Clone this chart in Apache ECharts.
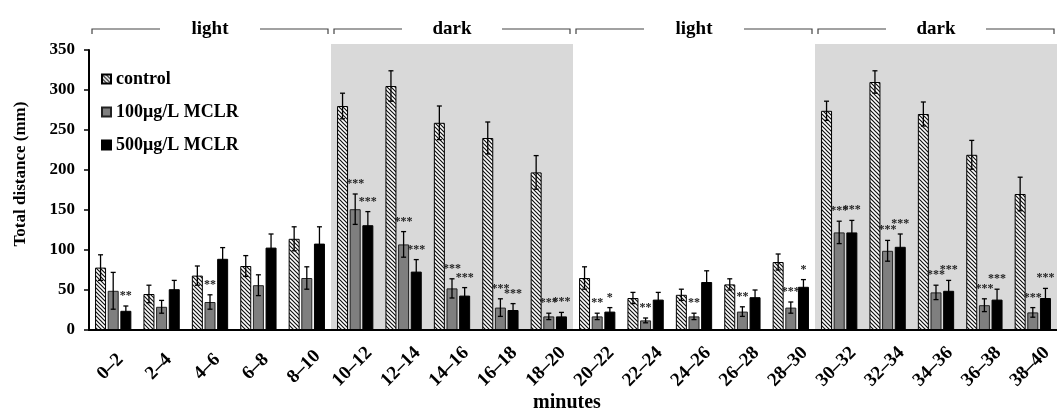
<!DOCTYPE html>
<html>
<head>
<meta charset="utf-8">
<script src="https://cdn.jsdelivr.net/npm/echarts@6/dist/echarts.min.js"></script>
<style>
  html, body { margin: 0; padding: 0; background: #fff; }
  #chart { width: 1057px; height: 414px; }
</style>
</head>
<body>
<div id="chart"></div>
<script>
// categories (2-min bins)
const categories = ['0–2', '2–4', '4–6', '6–8', '8–10', '10–12', '12–14', '14–16', '16–18', '18–20',
  '20–22', '22–24', '24–26', '26–28', '28–30', '30–32', '32–34', '34–36', '36–38', '38–40'];

// mean total distance (mm) and error
const control = [78, 45, 68, 80, 114, 280, 305, 259, 240, 197, 65, 40, 44, 57, 85, 274, 310, 270, 219, 170];
const controlErr = [16, 11, 12, 13, 15, 16, 19, 21, 20, 21, 14, 7, 7, 7, 10, 12, 14, 15, 18, 21];
const mclr100 = [49, 29, 35, 56, 65, 151, 107, 52, 28, 17, 17, 12, 17, 23, 28, 122, 99, 47, 31, 22];
const mclr100Err = [23, 8, 9, 13, 14, 19, 16, 12, 11, 4, 4, 3, 4, 6, 7, 14, 13, 9, 8, 6];
const mclr500 = [24, 51, 89, 103, 108, 131, 73, 43, 25, 17, 23, 38, 60, 41, 54, 122, 104, 49, 38, 40];
const mclr500Err = [6, 11, 14, 17, 21, 17, 15, 10, 8, 5, 5, 9, 14, 9, 9, 15, 16, 13, 13, 12];

// significance marks
const stars100 = ['', '', '**', '', '', '***', '***', '***', '***', '***',
  '**', '**', '**', '**', '***', '***', '***', '***', '***', '***'];
const stars500 = ['**', '', '', '', '', '***', '***', '***', '***', '***',
  '*', '', '', '', '*', '***', '***', '***', '***', '***'];
const starsControl = categories.map(() => '');

// light / dark phases: [first bin, last bin, label]
const phases = [[0, 4, 'light'], [5, 9, 'dark'], [10, 14, 'light'], [15, 19, 'dark']];
const yTicks = { min: 0, max: 350, interval: 50 };

const FONT = '"Liberation Serif", "Times New Roman", serif';
const BAR_W = 11;
const BAR_GAP = 0.15;

// hatch for the control bars
const hatch = document.createElement('canvas');
hatch.width = 4; hatch.height = 4;
(function () {
  const ctx = hatch.getContext('2d');
  ctx.fillStyle = '#fff';
  ctx.fillRect(0, 0, 4, 4);
  ctx.strokeStyle = '#111';
  ctx.lineWidth = 1.2;
  ctx.beginPath();
  ctx.moveTo(-1, -1); ctx.lineTo(5, 5);
  ctx.moveTo(-1, 3); ctx.lineTo(1, 5);
  ctx.moveTo(3, -1); ctx.lineTo(5, 1);
  ctx.stroke();
})();

const chart = echarts.init(document.getElementById('chart'));

function errorSeries(name, means, errs, stars, slot) {
  return {
    type: 'custom',
    name: name + ' err',
    z: 4,
    silent: true,
    data: means.map((m, i) => [i, m, errs[i]]),
    renderItem: (params, api) => {
      const i = api.value(0), m = api.value(1), e = api.value(2);
      const step = BAR_W * (1 + BAR_GAP);
      const x = api.coord([i, 0])[0] + (slot - 1) * step;
      const yTop = api.coord([i, m + e])[1];
      const yBot = api.coord([i, Math.max(m - e, 0)])[1];
      const cap = 2.5;
      const st = { stroke: '#000', lineWidth: 1.3 };
      const children = [
        { type: 'line', shape: { x1: x, y1: yTop, x2: x, y2: yBot }, style: st },
        { type: 'line', shape: { x1: x - cap, y1: yTop, x2: x + cap, y2: yTop }, style: st },
        { type: 'line', shape: { x1: x - cap, y1: yBot, x2: x + cap, y2: yBot }, style: st }
      ];
      const s = stars[params.dataIndex];
      if (s) {
        children.push({
          type: 'text',
          style: {
            text: s, x: x, y: yTop - 4, align: 'center', verticalAlign: 'bottom',
            font: 'bold 12px ' + FONT, fill: '#222'
          }
        });
      }
      return { type: 'group', children: children };
    }
  };
}

chart.setOption({
  animation: false,
  backgroundColor: '#fff',
  textStyle: { fontFamily: FONT },
  grid: { left: 89, top: 50, width: 972, height: 280 },
  legend: {
    orient: 'vertical',
    left: 96,
    top: 65,
    itemWidth: 9,
    itemHeight: 9,
    itemGap: 15,
    icon: 'rect',
    data: ['control', '100μg/L MCLR', '500μg/L MCLR'],
    textStyle: { fontFamily: FONT, fontWeight: 'bold', fontSize: 18, color: '#000' }
  },
  xAxis: {
    type: 'category',
    data: categories,
    z: 5,
    axisLine: { lineStyle: { color: '#000', width: 2 } },
    axisTick: { interval: 0, length: 5, lineStyle: { color: '#000', width: 1.5 } },
    axisLabel: {
      interval: 0, rotate: 45, margin: 34,
      align: 'center', verticalAlign: 'middle', padding: [0, 8, 8, 0],
      fontFamily: FONT, fontWeight: 'bold', fontSize: 19, color: '#000'
    }
  },
  yAxis: {
    type: 'value',
    min: yTicks.min,
    max: yTicks.max,
    interval: yTicks.interval,
    axisLine: { show: true, lineStyle: { color: '#000', width: 2 } },
    axisTick: { show: true, length: 5, lineStyle: { color: '#000', width: 1.5 } },
    splitLine: { show: false },
    axisLabel: { margin: 14, fontFamily: FONT, fontWeight: 'bold', fontSize: 17, color: '#000' }
  },
  graphic: [
    {
      type: 'text', x: 21, y: 174, rotation: Math.PI / 2,
      style: {
        text: 'Total distance (mm)', align: 'center', verticalAlign: 'middle',
        font: 'bold 17px ' + FONT, fill: '#000'
      }
    },
    {
      type: 'text', x: 567, y: 403,
      style: {
        text: 'minutes', align: 'center', verticalAlign: 'middle',
        font: 'bold 20px ' + FONT, fill: '#000'
      }
    }
  ],
  series: [
    {
      // dark-phase shading and the light/dark brackets
      type: 'custom',
      name: 'phases',
      z: 1,
      silent: true,
      clip: false,
      data: phases.map(p => [p[0], p[1]]),
      renderItem: (params, api) => {
        const p = phases[params.dataIndex];
        const bw = api.size([1, 0])[0];
        const xl = api.coord([p[0], 0])[0] - bw / 2;
        const xr = api.coord([p[1], 0])[0] + bw / 2;
        const y0 = api.coord([0, 0])[1];
        const yTop = api.coord([0, yTicks.max])[1];
        const yb = yTop - 21;
        const mid = (xl + xr) / 2;
        const ls = { stroke: '#444', lineWidth: 1.2, fill: null };
        const children = [];
        if (p[2] === 'dark') {
          children.push({
            type: 'rect',
            shape: { x: xl, y: yTop - 6, width: xr - xl, height: y0 - yTop + 5 },
            style: { fill: '#d9d9d9' }
          });
        }
        children.push(
          { type: 'polyline', shape: { points: [[xl + 3, yb + 5], [xl + 3, yb], [mid - 50, yb]] }, style: ls },
          { type: 'polyline', shape: { points: [[mid + 50, yb], [xr - 3, yb], [xr - 3, yb + 5]] }, style: ls },
          {
            type: 'text',
            style: {
              text: p[2], x: mid, y: yb, align: 'center', verticalAlign: 'middle',
              font: 'bold 19px ' + FONT, fill: '#000'
            }
          }
        );
        return { type: 'group', children: children };
      }
    },
    {
      type: 'bar', name: 'control', data: control, barWidth: BAR_W, barGap: (BAR_GAP * 100) + '%', z: 3,
      itemStyle: { color: { image: hatch, repeat: 'repeat' }, borderColor: '#000', borderWidth: 1 }
    },
    {
      type: 'bar', name: '100μg/L MCLR', data: mclr100, barWidth: BAR_W, barGap: (BAR_GAP * 100) + '%', z: 3,
      itemStyle: { color: '#7f7f7f', borderColor: '#222', borderWidth: 1 }
    },
    {
      type: 'bar', name: '500μg/L MCLR', data: mclr500, barWidth: BAR_W, barGap: (BAR_GAP * 100) + '%', z: 3,
      itemStyle: { color: '#000', borderColor: '#000', borderWidth: 1 }
    },
    errorSeries('control', control, controlErr, starsControl, 0),
    errorSeries('100μg/L MCLR', mclr100, mclr100Err, stars100, 1),
    errorSeries('500μg/L MCLR', mclr500, mclr500Err, stars500, 2)
  ]
});
</script>
</body>
</html>
